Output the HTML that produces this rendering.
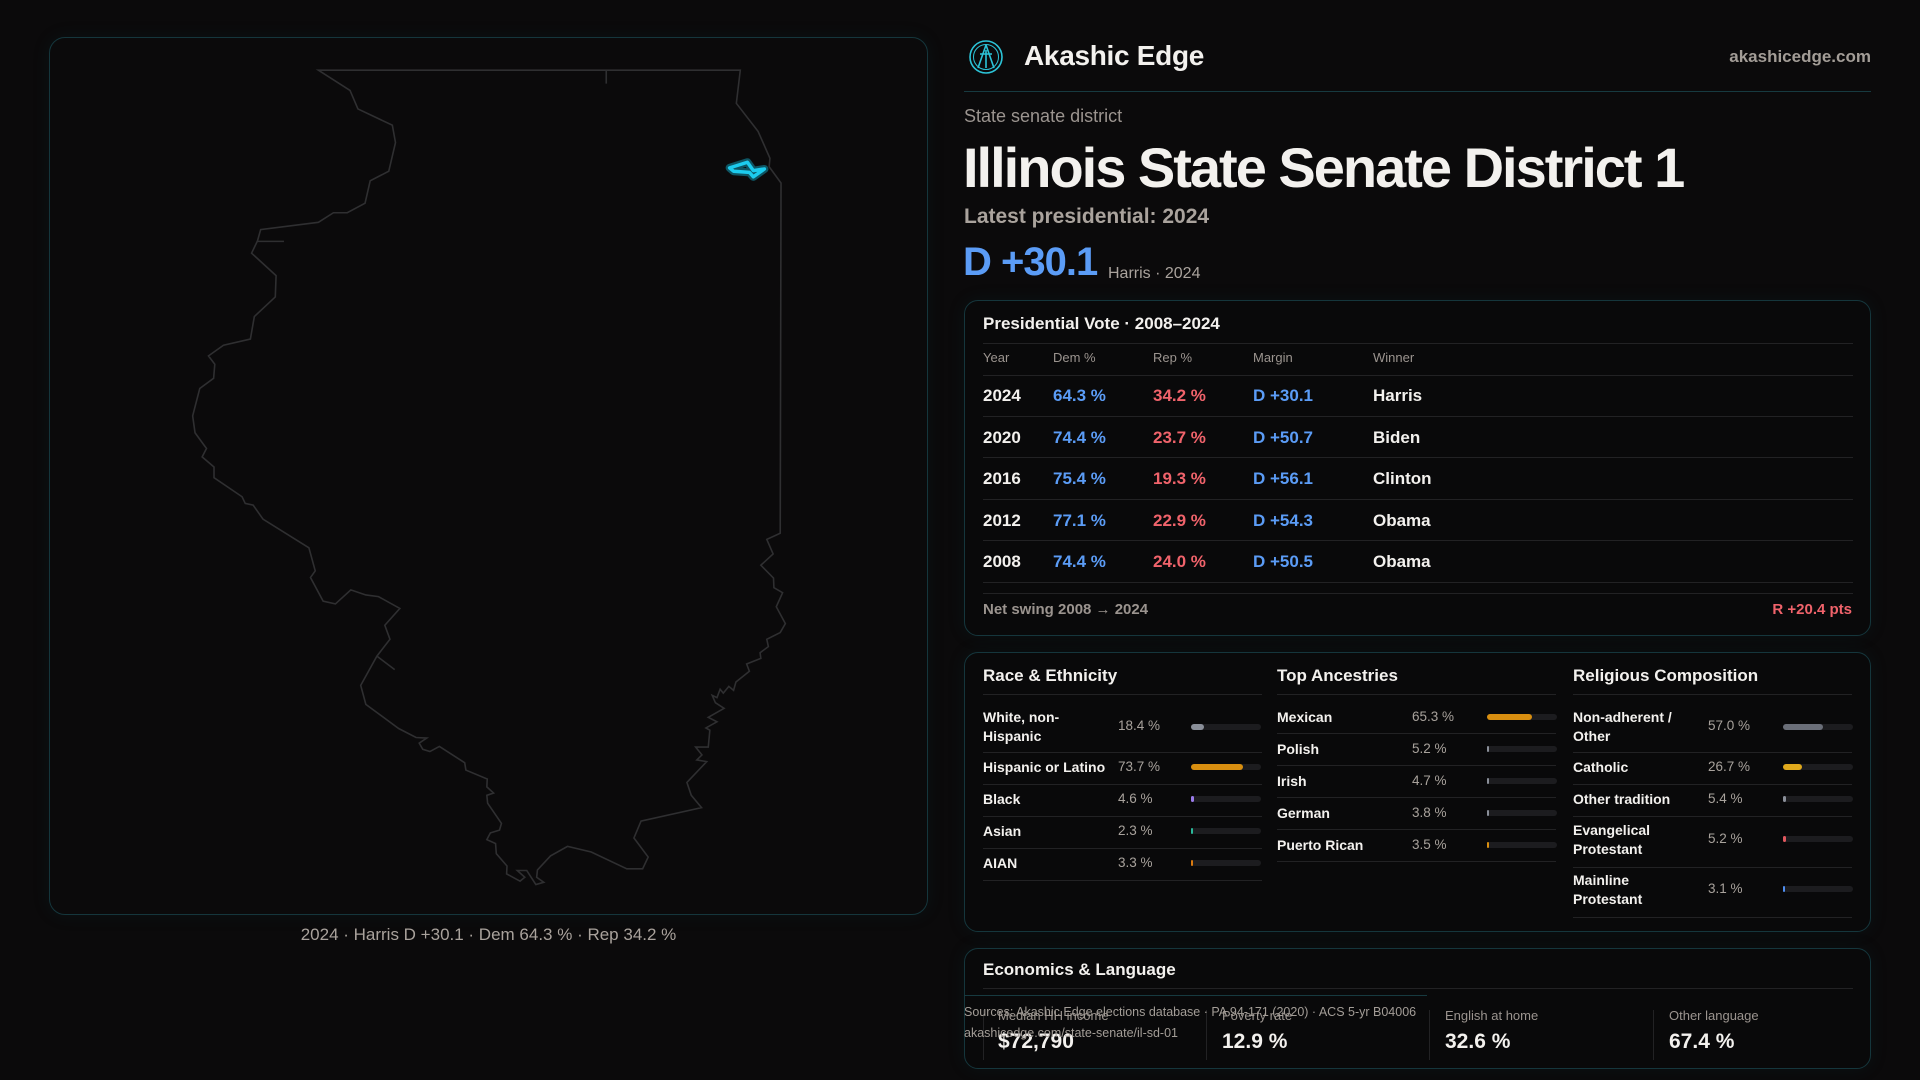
<!DOCTYPE html>
<html><head><meta charset="utf-8"><style>
*{margin:0;padding:0;box-sizing:border-box}
body{width:1920px;height:1080px;background:#0b0a0b;font-family:"Liberation Sans",sans-serif;color:#f3f1ee;position:relative;overflow:hidden}
.a{position:absolute;white-space:nowrap}
.card{position:absolute;border:1px solid #15363c;border-radius:14px;background:#09090a;box-shadow:0 0 18px rgba(20,80,90,.12)}
.g{color:#9b948f}
.b{color:#5b9cf6}.r{color:#f0636b}
.hl{position:absolute;height:1px;background:#222224}
.bar{position:absolute;height:6px;border-radius:3px;background:#1c1c1f}
.bar i{position:absolute;left:0;top:0;height:6px;border-radius:3px}
.rl{font-size:14px;font-weight:bold;line-height:19px}
.rv{font-size:13.5px;color:#a8a29c}
</style></head><body>
<div class="card" style="left:49px;top:37px;width:879px;height:878px;border-radius:16px;background:#0b0a0b"></div>
<svg class="a" style="left:180px;top:50px" width="620" height="880" viewBox="0 0 1568 1568" preserveAspectRatio="none">
<g fill="none" stroke="#2f2f31" stroke-width="1.6" vector-effect="non-scaling-stroke">
<path vector-effect="non-scaling-stroke" d="M350,36 430,72 450,105 537,134 545,165 528,216 481,233 468,273 423,290 388,290 350,307 204,320 196,340 181,362 243,402 241,440 188,475 178,515 110,526 72,545 88,560 85,585 50,603 32,652 38,682 67,710 56,725 86,743 86,762 157,796 165,808 185,811 210,836 326,887 342,928 330,940 362,982 393,987 432,962 470,971 502,974 556,995 518,1025 531,1050 498,1080 457,1132 470,1166 553,1209 597,1225 624,1226 605,1235 614,1246 632,1250 656,1241 720,1270 723,1283 777,1299 776,1313 793,1324 776,1328 778,1342 813,1378 808,1390 785,1395 776,1407 798,1414 800,1432 827,1454 826,1468 860,1481 872,1474 853,1462 877,1462 900,1487 920,1483 902,1474 904,1461 937,1436 980,1419 1040,1429 1130,1459 1170,1459 1184,1438 1148,1404 1166,1374 1319,1350 1293,1328 1282,1305 1332,1268 1307,1265 1320,1256 1304,1242 1336,1242 1340,1212 1330,1208 1358,1197 1336,1189 1376,1173 1354,1163 1346,1150 1358,1154 1366,1139 1374,1146 1388,1134 1400,1141 1406,1126 1440,1107 1433,1094 1469,1084 1467,1074 1488,1063 1484,1050 1518,1038 1531,1022 1508,992 1524,967 1502,958 1501,941 1469,918 1500,898 1484,872 1518,861 1520,237 1490,208 1492,193 1462,145 1407,95 1417,36 Z"/>
<path vector-effect="non-scaling-stroke" d="M196,341 263,341 M498,1080 543,1104 M1078,36 1078,60"/>
</g>
<path d="M1390,210 1435,200 1450,215 1478,212 1450,226 1440,218 1400,216 Z" fill="none" stroke="#0e5563" stroke-width="8" vector-effect="non-scaling-stroke" stroke-linejoin="round"/>
<path d="M1390,210 1435,200 1450,215 1478,212 1450,226 1440,218 1400,216 Z" fill="none" stroke="#1ccbee" stroke-width="3.5" vector-effect="non-scaling-stroke" stroke-linejoin="round"/>
</svg>
<div class="a g" style="left:49px;width:879px;text-align:center;top:925px;font-size:17px;color:#a9a29c">2024 · Harris D +30.1 · Dem 64.3 % · Rep 34.2 %</div>

<svg class="a" style="left:967px;top:38px" width="38" height="38" viewBox="0 0 38 38"><g fill="none" stroke="#2cc4d8" stroke-width="1.6"><circle cx="19" cy="19" r="16"/><circle cx="19" cy="19" r="12.5" stroke-width="1"/><path d="M19 7 L11 30 M19 7 L27 30 M13 16 L25 16 M19 12 L19 30"/></g></svg>
<div class="a" style="left:1024px;top:40px;font-size:28px;font-weight:bold;letter-spacing:-.3px">Akashic Edge</div>
<div class="a" style="right:49px;top:47px;font-size:17px;font-weight:bold;color:#a39d97">akashicedge.com</div>
<div class="hl" style="left:964px;width:907px;top:91px;background:#173a40"></div>
<div class="a g" style="left:964px;top:106px;font-size:18px">State senate district</div>
<div class="a" style="left:963px;top:135px;font-size:56px;font-weight:bold;letter-spacing:-2px">Illinois State Senate District 1</div>
<div class="a" style="left:964px;top:205px;font-size:21px;font-weight:bold;color:#aaa39d">Latest presidential: 2024</div>
<div class="a b" style="left:963px;top:240px;font-size:40px;font-weight:bold;letter-spacing:-1px">D +30.1</div>
<div class="a" style="left:1108px;top:265px;font-size:16px;color:#aaa39d">Harris · 2024</div>

<div class="card" style="left:964px;top:300px;width:907px;height:336px"></div>
<div class="a" style="left:983px;top:314px;font-size:17px;font-weight:bold">Presidential Vote · 2008–2024</div>
<div class="hl" style="left:983px;width:870px;top:343px"></div>
<div class="a g" style="left:983px;top:350px;font-size:13px">Year</div>
<div class="a g" style="left:1053px;top:350px;font-size:13px">Dem %</div>
<div class="a g" style="left:1153px;top:350px;font-size:13px">Rep %</div>
<div class="a g" style="left:1253px;top:350px;font-size:13px">Margin</div>
<div class="a g" style="left:1373px;top:350px;font-size:13px">Winner</div>
<div class="hl" style="left:983px;width:870px;top:375px"></div>
<div style="position:absolute;left:983px;top:375px;width:870px;font-size:17px;font-weight:bold">
<div style="position:relative;height:41.5px;border-bottom:1px solid #222224"><span class="a" style="left:0;top:11px">2024</span><span class="a b" style="left:70px;top:11px">64.3 %</span><span class="a r" style="left:170px;top:11px">34.2 %</span><span class="a b" style="left:270px;top:11px">D +30.1</span><span class="a" style="left:390px;top:11px">Harris</span></div>
<div style="position:relative;height:41.5px;border-bottom:1px solid #222224"><span class="a" style="left:0;top:11px">2020</span><span class="a b" style="left:70px;top:11px">74.4 %</span><span class="a r" style="left:170px;top:11px">23.7 %</span><span class="a b" style="left:270px;top:11px">D +50.7</span><span class="a" style="left:390px;top:11px">Biden</span></div>
<div style="position:relative;height:41.5px;border-bottom:1px solid #222224"><span class="a" style="left:0;top:11px">2016</span><span class="a b" style="left:70px;top:11px">75.4 %</span><span class="a r" style="left:170px;top:11px">19.3 %</span><span class="a b" style="left:270px;top:11px">D +56.1</span><span class="a" style="left:390px;top:11px">Clinton</span></div>
<div style="position:relative;height:41.5px;border-bottom:1px solid #222224"><span class="a" style="left:0;top:11px">2012</span><span class="a b" style="left:70px;top:11px">77.1 %</span><span class="a r" style="left:170px;top:11px">22.9 %</span><span class="a b" style="left:270px;top:11px">D +54.3</span><span class="a" style="left:390px;top:11px">Obama</span></div>
<div style="position:relative;height:41.5px;border-bottom:1px solid #222224"><span class="a" style="left:0;top:11px">2008</span><span class="a b" style="left:70px;top:11px">74.4 %</span><span class="a r" style="left:170px;top:11px">24.0 %</span><span class="a b" style="left:270px;top:11px">D +50.5</span><span class="a" style="left:390px;top:11px">Obama</span></div>
</div>
<div class="hl" style="left:983px;width:870px;top:593px"></div>
<div class="a g" style="left:983px;top:601px;font-size:15px;font-weight:bold">Net swing 2008 → 2024</div>
<div class="a r" style="right:68px;top:601px;font-size:15px;font-weight:bold">R +20.4 pts</div>

<div class="card" style="left:964px;top:652px;width:907px;height:280px"></div>
<div class="a" style="left:983px;top:666px;font-size:17px;font-weight:bold">Race &amp; Ethnicity</div>
<div class="a" style="left:1277px;top:666px;font-size:17px;font-weight:bold">Top Ancestries</div>
<div class="a" style="left:1573px;top:666px;font-size:17px;font-weight:bold">Religious Composition</div>
<div class="hl" style="left:983px;width:279px;top:694px"></div>
<div class="hl" style="left:1277px;width:279px;top:694px"></div>
<div class="hl" style="left:1573px;width:279px;top:694px"></div>

<div class="a rl" style="left:983px;top:708px;white-space:normal;width:110px">White, non-Hispanic</div><div class="a rv" style="left:1118px;top:718px">18.4 %</div><div class="bar" style="left:1191px;top:724px;width:70px"><i style="width:13px;background:#8a8f99"></i></div>
<div class="hl" style="left:983px;width:279px;top:752px"></div>
<div class="a rl" style="left:983px;top:758px">Hispanic or Latino</div><div class="a rv" style="left:1118px;top:759px">73.7 %</div><div class="bar" style="left:1191px;top:764px;width:70px"><i style="width:52px;background:#d98f10"></i></div>
<div class="hl" style="left:983px;width:279px;top:784px"></div>
<div class="a rl" style="left:983px;top:790px">Black</div><div class="a rv" style="left:1118px;top:791px">4.6 %</div><div class="bar" style="left:1191px;top:796px;width:70px"><i style="width:3px;background:#9a7bea"></i></div>
<div class="hl" style="left:983px;width:279px;top:816px"></div>
<div class="a rl" style="left:983px;top:822px">Asian</div><div class="a rv" style="left:1118px;top:823px">2.3 %</div><div class="bar" style="left:1191px;top:828px;width:70px"><i style="width:2px;background:#2bb89a"></i></div>
<div class="hl" style="left:983px;width:279px;top:848px"></div>
<div class="a rl" style="left:983px;top:854px">AIAN</div><div class="a rv" style="left:1118px;top:855px">3.3 %</div><div class="bar" style="left:1191px;top:860px;width:70px"><i style="width:2px;background:#d97a10"></i></div>
<div class="hl" style="left:983px;width:279px;top:880px"></div>

<div class="a rl" style="left:1277px;top:708px">Mexican</div><div class="a rv" style="left:1412px;top:709px">65.3 %</div><div class="bar" style="left:1487px;top:714px;width:70px"><i style="width:45px;background:#d98f10"></i></div>
<div class="hl" style="left:1277px;width:279px;top:733px"></div>
<div class="a rl" style="left:1277px;top:740px">Polish</div><div class="a rv" style="left:1412px;top:741px">5.2 %</div><div class="bar" style="left:1487px;top:746px;width:70px"><i style="width:2px;background:#8a8f99"></i></div>
<div class="hl" style="left:1277px;width:279px;top:765px"></div>
<div class="a rl" style="left:1277px;top:772px">Irish</div><div class="a rv" style="left:1412px;top:773px">4.7 %</div><div class="bar" style="left:1487px;top:778px;width:70px"><i style="width:2px;background:#8a8f99"></i></div>
<div class="hl" style="left:1277px;width:279px;top:797px"></div>
<div class="a rl" style="left:1277px;top:804px">German</div><div class="a rv" style="left:1412px;top:805px">3.8 %</div><div class="bar" style="left:1487px;top:810px;width:70px"><i style="width:2px;background:#8a8f99"></i></div>
<div class="hl" style="left:1277px;width:279px;top:829px"></div>
<div class="a rl" style="left:1277px;top:836px">Puerto Rican</div><div class="a rv" style="left:1412px;top:837px">3.5 %</div><div class="bar" style="left:1487px;top:842px;width:70px"><i style="width:2px;background:#d98f10"></i></div>
<div class="hl" style="left:1277px;width:279px;top:861px"></div>

<div class="a rl" style="left:1573px;top:708px;white-space:normal;width:115px">Non-adherent / Other</div><div class="a rv" style="left:1708px;top:718px">57.0 %</div><div class="bar" style="left:1783px;top:724px;width:70px"><i style="width:40px;background:#6a6e78"></i></div>
<div class="hl" style="left:1573px;width:279px;top:752px"></div>
<div class="a rl" style="left:1573px;top:758px">Catholic</div><div class="a rv" style="left:1708px;top:759px">26.7 %</div><div class="bar" style="left:1783px;top:764px;width:70px"><i style="width:19px;background:#e0a91c"></i></div>
<div class="hl" style="left:1573px;width:279px;top:784px"></div>
<div class="a rl" style="left:1573px;top:790px">Other tradition</div><div class="a rv" style="left:1708px;top:791px">5.4 %</div><div class="bar" style="left:1783px;top:796px;width:70px"><i style="width:3px;background:#8a8f99"></i></div>
<div class="hl" style="left:1573px;width:279px;top:816px"></div>
<div class="a rl" style="left:1573px;top:821px;white-space:normal;width:115px">Evangelical Protestant</div><div class="a rv" style="left:1708px;top:831px">5.2 %</div><div class="bar" style="left:1783px;top:836px;width:70px"><i style="width:3px;background:#e0585e"></i></div>
<div class="hl" style="left:1573px;width:279px;top:867px"></div>
<div class="a rl" style="left:1573px;top:871px;white-space:normal;width:115px">Mainline Protestant</div><div class="a rv" style="left:1708px;top:881px">3.1 %</div><div class="bar" style="left:1783px;top:886px;width:70px"><i style="width:2px;background:#4f8ef0"></i></div>
<div class="hl" style="left:1573px;width:279px;top:917px"></div>

<div class="card" style="left:964px;top:948px;width:907px;height:121px"></div>
<div class="a" style="left:983px;top:960px;font-size:17px;font-weight:bold">Economics &amp; Language</div>
<div class="hl" style="left:983px;width:870px;top:988px"></div>
<div class="hl" style="left:983px;width:1px;height:50px;top:1010px"></div>
<div class="hl" style="left:1206px;width:1px;height:50px;top:1010px"></div>
<div class="hl" style="left:1429px;width:1px;height:50px;top:1010px"></div>
<div class="hl" style="left:1653px;width:1px;height:50px;top:1010px"></div>
<div class="a g" style="left:998px;top:1008px;font-size:13px">Median HH income</div>
<div class="a" style="left:998px;top:1030px;font-size:21px;font-weight:bold">$72,790</div>
<div class="a g" style="left:1222px;top:1008px;font-size:13px">Poverty rate</div>
<div class="a" style="left:1222px;top:1030px;font-size:21px;font-weight:bold">12.9 %</div>
<div class="a g" style="left:1445px;top:1008px;font-size:13px">English at home</div>
<div class="a" style="left:1445px;top:1030px;font-size:21px;font-weight:bold">32.6 %</div>
<div class="a g" style="left:1669px;top:1008px;font-size:13px">Other language</div>
<div class="a" style="left:1669px;top:1030px;font-size:21px;font-weight:bold">67.4 %</div>
<div class="hl" style="left:964px;width:463px;top:995px;background:#173a40"></div>
<div class="a" style="left:964px;top:1005px;font-size:12.5px;color:#a39d97">Sources: Akashic Edge elections database · PA 94-171 (2020) · ACS 5-yr B04006</div>
<div class="a" style="left:964px;top:1026px;font-size:12.5px;color:#a39d97">akashicedge.com/state-senate/il-sd-01</div>
</body></html>
